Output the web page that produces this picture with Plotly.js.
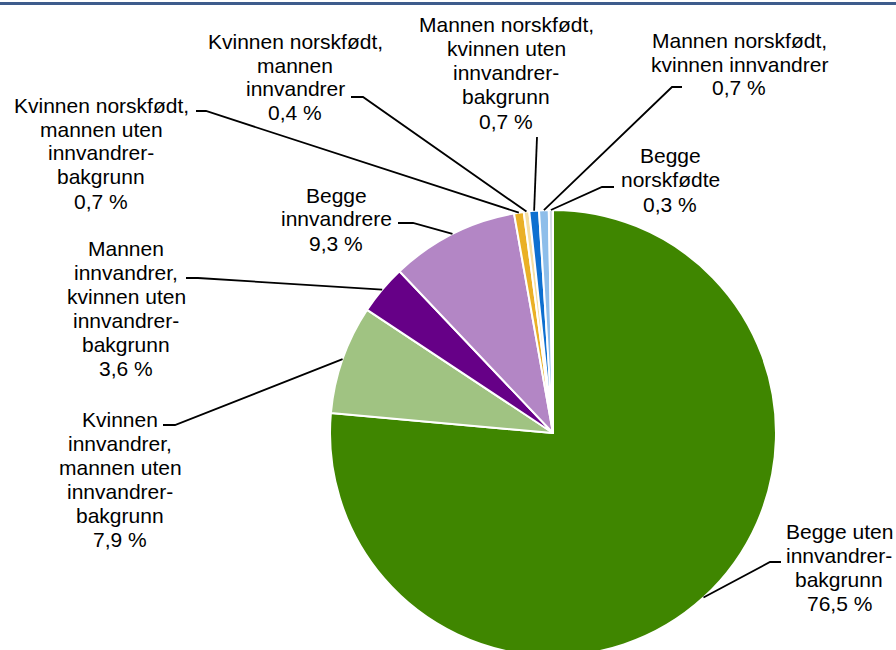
<!DOCTYPE html>
<html>
<head>
<meta charset="utf-8">
<script src="https://cdn.plot.ly/plotly-3.0.1.min.js"></script>
<style>
html, body { margin: 0; padding: 0; background: #fff; overflow: hidden; }
#wrap { width: 896px; height: 650px; overflow: hidden; position: relative; }
#chart { width: 896px; height: 680px; }
</style>
</head>
<body>
<div id="wrap"><div id="chart"></div></div>
<script>
// ---- Data ----
const categories = [
  'Begge uten innvandrerbakgrunn',
  'Kvinnen innvandrer, mannen uten innvandrerbakgrunn',
  'Mannen innvandrer, kvinnen uten innvandrerbakgrunn',
  'Begge innvandrere',
  'Kvinnen norskfødt, mannen uten innvandrerbakgrunn',
  'Kvinnen norskfødt, mannen innvandrer',
  'Mannen norskfødt, kvinnen uten innvandrerbakgrunn',
  'Mannen norskfødt, kvinnen innvandrer',
  'Begge norskfødte'
];
const values = [76.5, 7.9, 3.6, 9.3, 0.7, 0.4, 0.7, 0.7, 0.3];
const labelLines = [
  ['Begge uten', 'innvandrer-', 'bakgrunn'],
  ['Kvinnen', 'innvandrer,', 'mannen uten', 'innvandrer-', 'bakgrunn'],
  ['Mannen', 'innvandrer,', 'kvinnen uten', 'innvandrer-', 'bakgrunn'],
  ['Begge', 'innvandrere'],
  ['Kvinnen norskfødt,', 'mannen uten', 'innvandrer-', 'bakgrunn'],
  ['Kvinnen norskfødt,', 'mannen', 'innvandrer'],
  ['Mannen norskfødt,', 'kvinnen uten', 'innvandrer-', 'bakgrunn'],
  ['Mannen norskfødt,', 'kvinnen innvandrer'],
  ['Begge', 'norskfødte']
];
const colors = ['#3F8600', '#A0C382', '#660087', '#B386C5', '#EAB026', '#F6DFA3', '#0E70D0', '#8EBEEA', '#D2DAE3'];

// ---- Layout (pixel positions) ----
const W = 896, H = 680;
const CX = 553, CY = 433, R = 223;
// label block: center x, first baseline y ; leader: [x0, y0, x1]
const labelPos = [[839, 538], [120, 426], [126, 255], [336, 202], [101, 112], [295, 48], [506, 32], [739, 47], [670, 163]];
const leaders = [[781, 562, 770], [163, 425, 175], [186, 278, 198], [398, 223, 413], [196, 111, 206], [351, 97, 363], [537, 137, 537], [682, 87, 672], [614, 187, 602]];
const LINE_H = 24, FS = 21;

const px = x => x / W;
const py = y => 1 - y / H;

function fmt(v) { return v.toFixed(1).replace('.', ',') + ' %'; }

const annotations = [];
const shapes = [];
const total = values.reduce((a, b) => a + b, 0);
let cum = 0;
values.forEach((v, i) => {
  const lines = labelLines[i].concat([fmt(v)]);
  const [cx, by] = labelPos[i];
  lines.forEach((t, k) => {
    annotations.push({
      xref: 'paper', yref: 'paper', x: px(cx), y: py(by + k * LINE_H - 7),
      xanchor: 'center', yanchor: 'middle', text: t, showarrow: false,
      font: { family: 'Liberation Sans, Arial, sans-serif', size: FS, color: '#000' }
    });
  });
  const mid = (cum + v / 2) / total * 2 * Math.PI;
  cum += v;
  const ex = CX + R * Math.sin(mid);
  const ey = CY - R * Math.cos(mid);
  const [x0, y0, x1] = leaders[i];
  shapes.push({
    type: 'path', xref: 'paper', yref: 'paper',
    path: `M ${px(x0)} ${py(y0)} L ${px(x1)} ${py(y0)} L ${px(ex)} ${py(ey)}`,
    line: { color: '#000', width: 1.8 }
  });
});

// top border line
shapes.push({ type: 'line', xref: 'paper', yref: 'paper', x0: 0, x1: 1, y0: py(3.5), y1: py(3.5), line: { color: '#3E5C8C', width: 3 } });

const trace = {
  type: 'pie',
  labels: categories,
  values: values,
  sort: false,
  direction: 'clockwise',
  rotation: 0,
  textinfo: 'none',
  hoverinfo: 'label+percent',
  marker: { colors: colors, line: { color: '#fff', width: 2 } },
  domain: { x: [px(CX - R), px(CX + R)], y: [py(CY + R), py(CY - R)] }
};

Plotly.newPlot('chart', [trace], {
  width: W, height: H,
  margin: { l: 0, r: 0, t: 0, b: 0 },
  showlegend: false,
  paper_bgcolor: '#fff',
  annotations: annotations,
  shapes: shapes
}, { displayModeBar: false, staticPlot: true });
</script>
</body>
</html>
